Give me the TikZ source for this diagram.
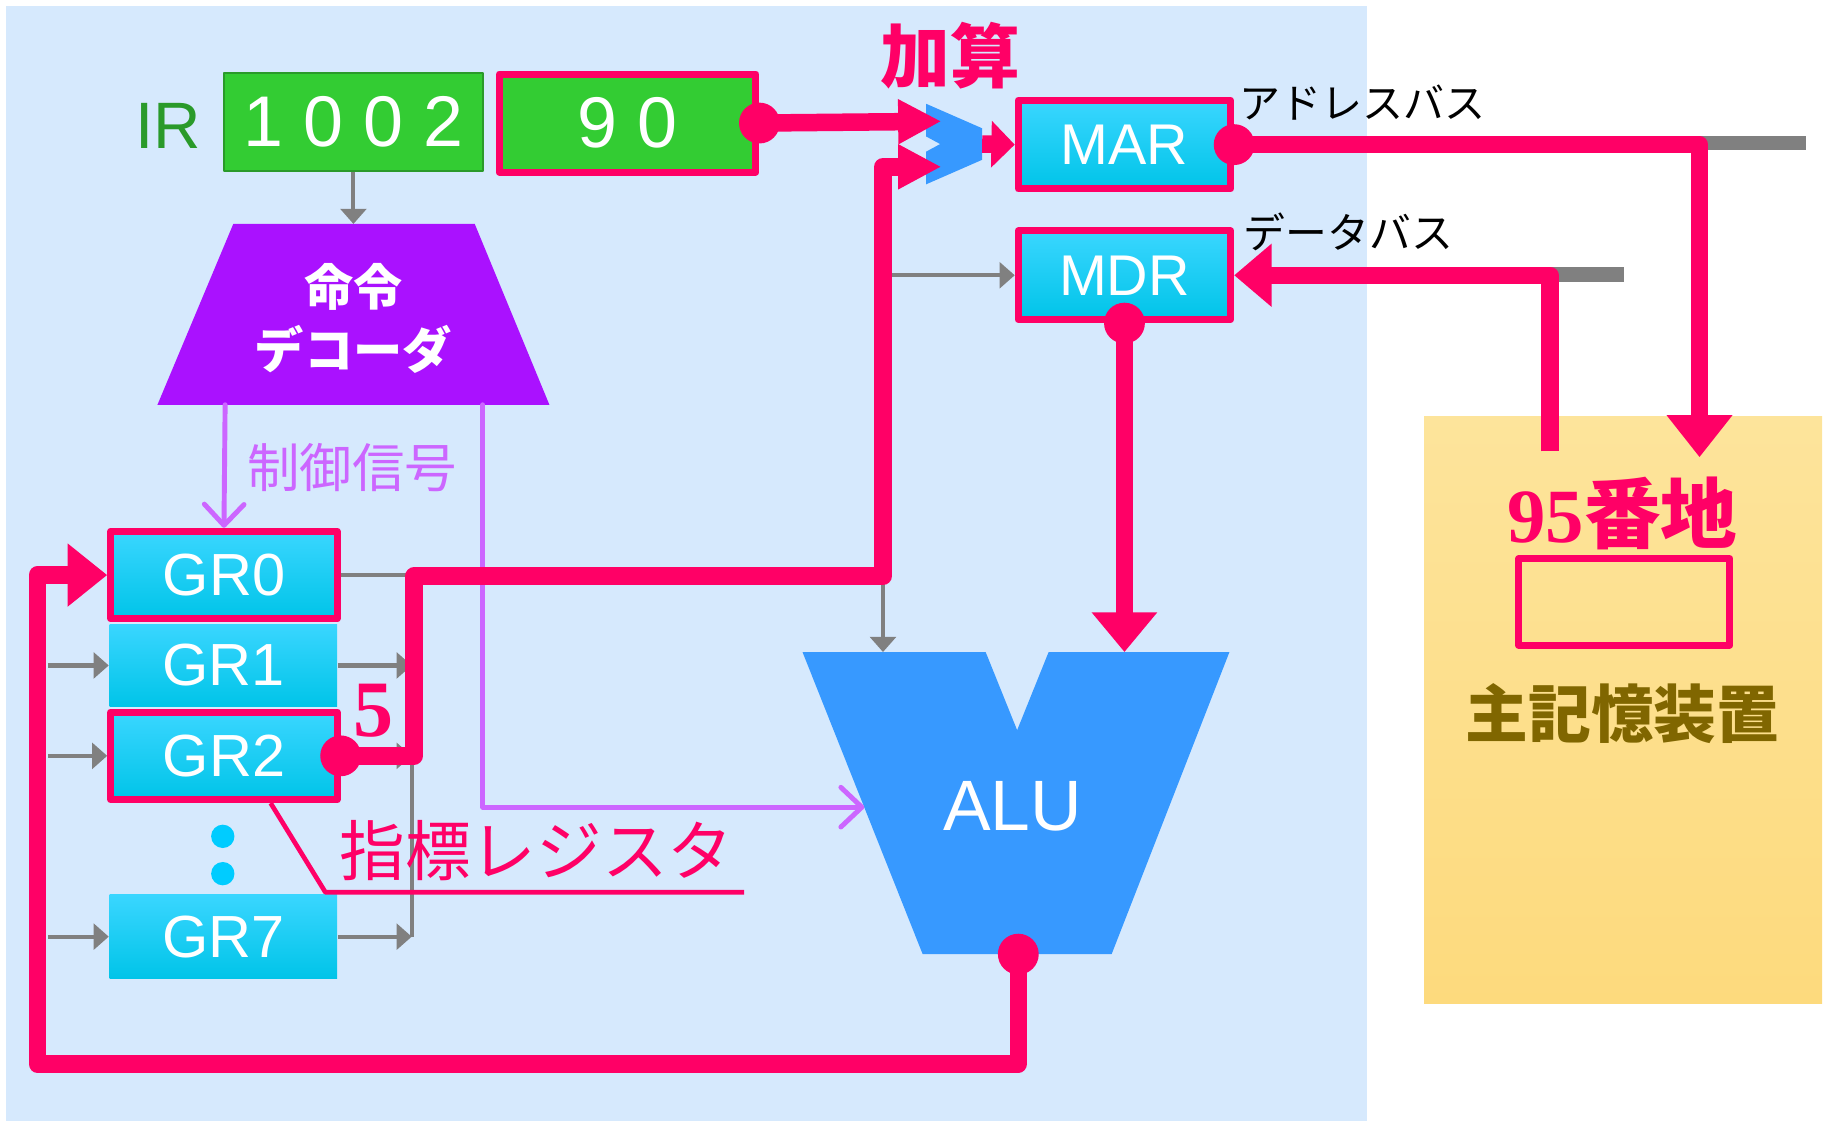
\documentclass[tikz,border=0pt]{standalone}
\usepackage{xcolor}
\usepackage{fontspec}
\usepackage{tikz}
\usetikzlibrary{calc}
\usetikzlibrary{arrows.meta}
\setmainfont{Liberation Sans}
\newfontfamily\jpfont{Noto Sans CJK JP}
\newfontfamily\numfont{Liberation Serif}
\definecolor{ffqqww}{rgb}{1.,0.,0.4}
\definecolor{dweafd}{rgb}{0.839,0.914,0.992}
\definecolor{ttcctt}{rgb}{0.2,0.8,0.2}
\definecolor{sazasa}{rgb}{0.165,0.604,0.165}
\definecolor{aarrff}{rgb}{0.667,0.067,1.}
\definecolor{ccwwff}{rgb}{0.8,0.4,1.}
\definecolor{txzzff}{rgb}{0.216,0.6,1.}
\definecolor{tadwff}{rgb}{0.227,0.839,1.}
\definecolor{qqcuey}{rgb}{0.,0.769,0.91}
\definecolor{qqccff}{rgb}{0.,0.8,1.}
\definecolor{fdeuzb}{rgb}{0.992,0.894,0.608}
\definecolor{fddaxd}{rgb}{0.992,0.855,0.49}
\definecolor{yqwwqq}{rgb}{0.502,0.4,0.}
\definecolor{yqyqyq}{rgb}{0.502,0.502,0.502}
\tikzstyle{every node}=[inner sep=0pt]

\begin{document}
\begin{tikzpicture}[line join=round,x=0.01cm,y=-0.01cm,
    pk/.style={draw=ffqqww,line width=0.15cm},
    gy/.style={draw=yqyqyq,line width=1pt,-{Triangle[length=0.13cm,width=0.22cm]}},
    gyl/.style={draw=yqyqyq,line width=1pt},
    pu/.style={draw=ccwwff,line width=1.2pt,line cap=round,-{Straight Barb[round,length=0.18cm,width=0.34cm]}},
    reg/.style={minimum width=1.95cm,minimum height=0.72cm,top color=tadwff,bottom color=qqcuey,text=white,font=\fontsize{14.5}{16}\selectfont},
    regpk/.style={reg,draw=ffqqww,line width=0.06cm,minimum width=1.94cm,minimum height=0.75cm},
    irbox/.style={minimum height=0.84cm,fill=ttcctt,text=white,font=\fontsize{17.5}{20}\selectfont}]
\useasboundingbox (0,0) rectangle (1568,961);
\fill[dweafd] (5,5) rectangle (1172,961);
\node[minimum width=3.41cm,minimum height=5.03cm,top color=fdeuzb,bottom color=fddaxd] (mem) at (1391.5,608.5) {};
\node[draw=ffqqww,line width=0.06cm,minimum width=1.81cm,minimum height=0.74cm] (cell) at (1392.5,516) {};
% registers
\node[text=sazasa,font=\fontsize{16}{18}\selectfont] (irlbl) at (144,108) {IR};
\node[irbox,draw=sazasa,line width=0.4pt,minimum width=2.22cm] (ir1) at (303,104.5) {1 0 0 2};
\node[irbox,draw=ffqqww,line width=0.06cm,minimum width=2.2cm] (ir2) at (538,105.5) {9 0};
\node[regpk,minimum width=1.82cm,minimum height=0.76cm,font=\fontsize{14}{16}\selectfont] (mar) at (964,124) {MAR};
\node[regpk,minimum width=1.82cm,minimum height=0.76cm,font=\fontsize{14}{16}\selectfont] (mdr) at (964,236) {MDR};
\node[regpk] (gr0) at (192,493) {GR0};
\node[reg,minimum height=0.71cm] (gr1) at (191.5,570.5) {GR1};
\node[regpk] (gr2) at (192,648) {GR2};
\node[reg] (gr7) at (191.5,803) {GR7};
\fill[qqccff] (191,717) circle (0.1cm);
\fill[qqccff] (191,749) circle (0.1cm);
% decoder, adder, alu
\fill[aarrff] (200,192) -- (407,192) -- (471,347) -- (135,347) -- cycle;
\node[text=white,font=\jpfont\bfseries\fontsize{12}{15.4}\selectfont,align=center] (dec) at (303,273) {命令\\デコーダ};
\coordinate (decT) at (303,192);
\coordinate (decL) at (193,347);
\coordinate (decR) at (414,347);
\fill[txzzff] (794,89) -- (842,110) -- (842,137) -- (794,158) -- (794,130) -- (806,123.5) -- (794,117) -- cycle;
\coordinate (addA) at (807,104);
\coordinate (addB) at (807,143);
\coordinate (addO) at (842,123.5);
\fill[txzzff] (688,559) -- (845,559) -- (872,626) -- (899,559) -- (1054,559) -- (953,818) -- (791,818) -- cycle;
\node[text=white,font=\fontsize{17.4}{20}\selectfont] (alu) at (868,691) {ALU};
\coordinate (aluA) at (757,559);
\coordinate (aluB) at (964,559);
\coordinate (aluL) at (741,692);
\coordinate (aluO) at (873,818);
\coordinate (bus) at (353,493);
\coordinate (inL) at (41,0);
\coordinate (memA) at (1457,392);
\coordinate (memB) at (1329,387);
% grey and purple signals
\draw[yqyqyq,line width=0.12cm] (1457,123) -- (1548,123);
\draw[yqyqyq,line width=0.13cm] (1329,235.5) -- (1392,235.5);
\draw[gy] (ir1.south) -- (decT);
\draw[gy] (inL |- gr1.west) -- (gr1.west);
\draw[gy] (inL |- gr2.west) -- (gr2.west);
\draw[gy] (inL |- gr7.west) -- (gr7.west);
\draw[gyl] (gr0.east) -- (gr0.east -| bus);
\draw[gy] (gr1.east) -- (gr1.east -| bus);
\draw[gy] (gr2.east) -- (gr2.east -| bus);
\draw[gy] (gr7.east) -- (gr7.east -| bus);
\draw[gyl] (bus) -- (bus |- gr7.east);
\draw[gy] (bus) -| (aluA);
\draw[gy] (aluA |- bus) |- (mdr.west);
\draw[pu] (decL) -- (gr0.north);
\draw[pu] (decR) |- (aluL);
\node[text=ccwwff,font=\jpfont\fontsize{12.8}{15}\selectfont] (ctl) at (302,401) {制御信号};
% data paths
\draw[pk,-{Triangle[length=0.37cm,width=0.36cm]}] (ir2.east) -- (addA);
\draw[pk,-{Triangle[length=0.37cm,width=0.36cm]}] (gr2.east) -| (355,494) -| (757,143) -- (addB);
\draw[pk,-{Triangle[length=0.2cm,width=0.39cm]}] (addO) -- (mar.west);
\draw[pk,-{Triangle[length=0.36cm,width=0.54cm]}] (mar.east) -| (memA);
\draw[pk,-{Triangle[length=0.32cm,width=0.52cm]}] (memB) |- (mdr.east);
\draw[pk,-{Triangle[length=0.34cm,width=0.54cm]}] (mdr.south) -- (aluB);
\draw[pk,-{Triangle[length=0.34cm,width=0.52cm]}] (aluO) -- ++(0,94) -| (32,493) -- (gr0.west);
\fill[ffqqww] (ir2.east) circle (0.175cm);
\fill[ffqqww] (mar.east) circle (0.175cm);
\fill[ffqqww] (mdr.south) circle (0.175cm);
\fill[ffqqww] (gr2.east) circle (0.175cm);
\fill[ffqqww] (aluO) circle (0.175cm);
% labels
\node[text=ffqqww,font=\jpfont\bfseries\fontsize{17}{20}\selectfont] (addlbl) at (815,48) {加算};
\node[font=\jpfont\fontsize{10}{12}\selectfont] (abuslbl) at (1168,88) {アドレスバス};
\node[font=\jpfont\fontsize{10.2}{12}\selectfont] (dbuslbl) at (1156,199) {データバス};
\node[text=ffqqww,font=\numfont\bfseries\fontsize{19.5}{22}\selectfont] (five) at (320,609) {5};
\node[text=ffqqww,font=\jpfont\fontsize{16}{18}\selectfont] (idx) at (460,729) {指標レジスタ};
\draw[ffqqww,line width=0.04cm] ($(gr2.south west)!.7!(gr2.south east)$) -- (279,765) -- (638,765);
\node[text=ffqqww,font=\bfseries\fontsize{18.7}{22}\selectfont] (adr) at (1391,440) {{\numfont 95}{\jpfont 番地}};
\node[text=yqwwqq,font=\jpfont\bfseries\fontsize{15.3}{18}\selectfont] (memlbl) at (1391,612) {主記憶装置};
\end{tikzpicture}
\end{document}
